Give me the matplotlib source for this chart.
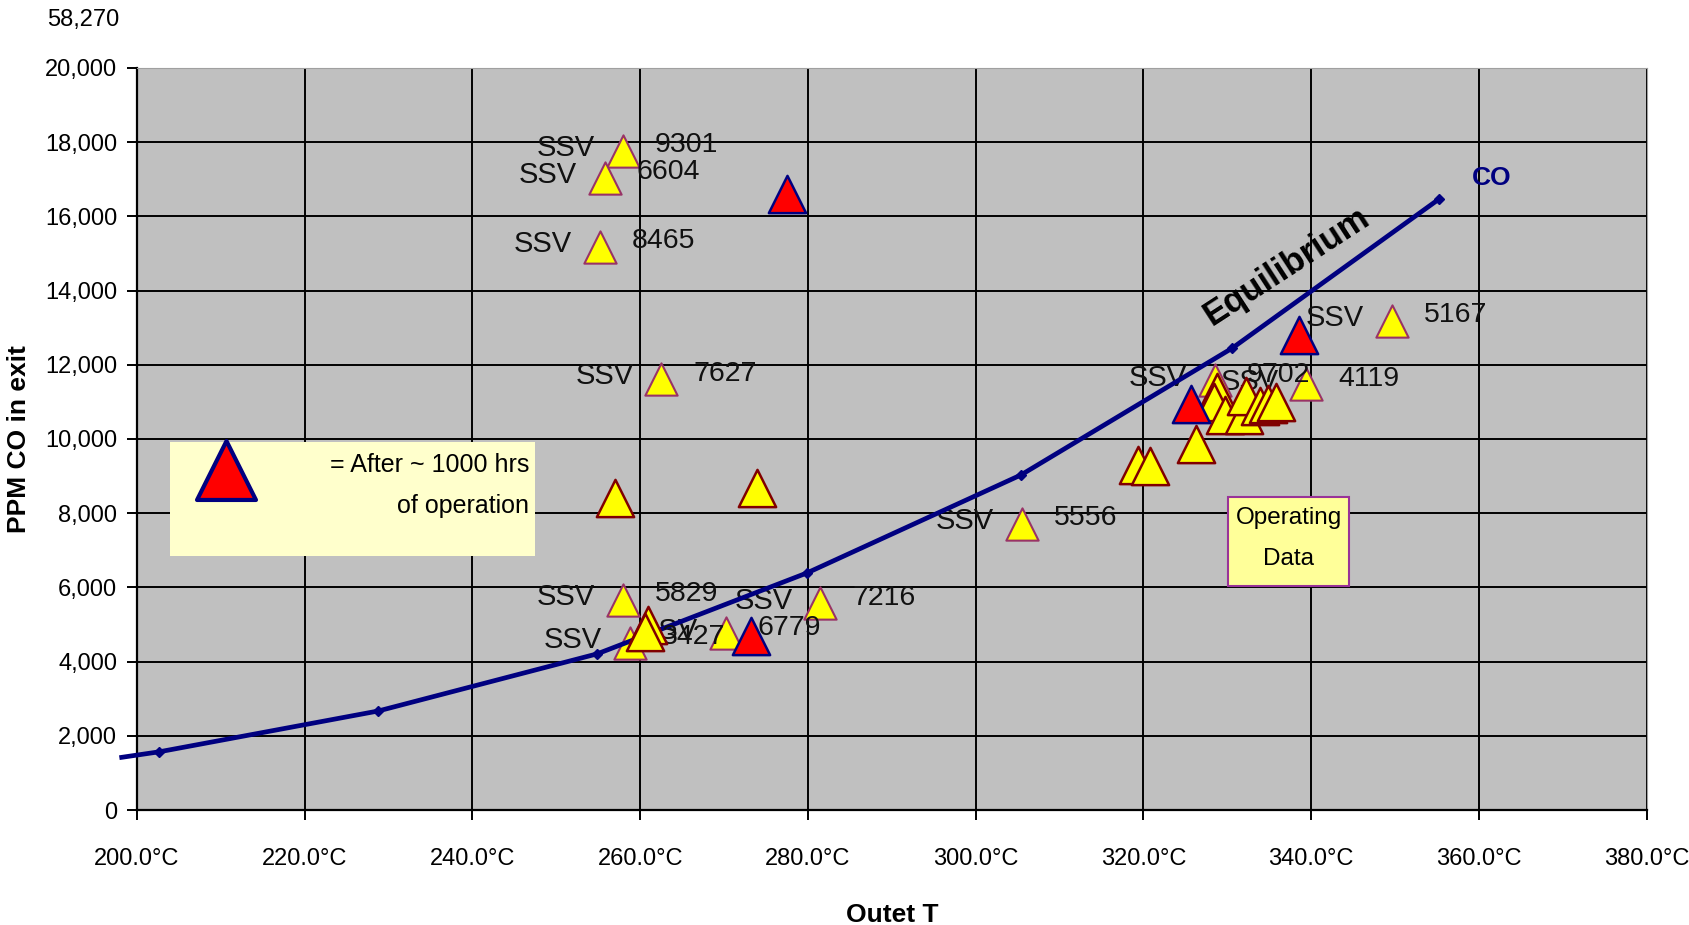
import matplotlib.pyplot as plt
from matplotlib.ticker import FuncFormatter, MultipleLocator

plt.rcParams['font.family'] = ['Liberation Sans', 'DejaVu Sans']

# equilibrium CO curve
eq_T = [198.2, 202.7, 228.8, 254.9, 279.9, 305.4, 330.6, 355.2]
eq_ppm = [1420, 1570, 2670, 4210, 6390, 9030, 12450, 16460]

# labelled SSV operating points
ssv_T = [257.9, 255.8, 255.2, 262.5, 349.6, 305.5, 257.9, 258.8, 270.2, 281.5, 328.5, 339.4]
ssv_ppm = [17765, 17040, 15180, 11610, 13180, 7720, 5660, 4500, 4760, 5570, 11580, 11470]
ssv_ids = ["9301", "6604", "8465", "7627", "5167", "5556", "5829", "3427", "6779", "7216", "9702", "4119"]

# other operating points (no label)
op_T = [257.0, 273.9, 260.9, 260.6, 319.4, 320.8, 326.3, 328.8, 328.4, 329.7, 332.0, 332.2, 333.9, 334.9, 335.8]
op_ppm = [8420, 8680, 4990, 4800, 9290, 9260, 9870, 11260, 11000, 10650, 10650, 11150, 10900, 10940, 11000]

# after ~1000 hrs of operation
aged_T = [277.5, 338.5, 325.7, 273.2]
aged_ppm = [16600, 12800, 10940, 4700]

fig = plt.figure(figsize=(16.89, 9.25), dpi=100)
ax = fig.add_axes([0.081, 0.1243, 0.894, 0.8023])
ax.set_facecolor('#C0C0C0')

ax.set_xlim(200, 380)
ax.set_ylim(0, 20000)
ax.xaxis.set_major_locator(MultipleLocator(20))
ax.yaxis.set_major_locator(MultipleLocator(2000))
ax.xaxis.set_major_formatter(FuncFormatter(lambda v, p: f"{v:.1f}°C"))
ax.yaxis.set_major_formatter(FuncFormatter(lambda v, p: f"{v:,.0f}"))
ax.grid(True, color='black', lw=1.4)
ax.set_axisbelow(True)
ax.tick_params(labelsize=17, length=7, width=1.4, direction='out')
ax.tick_params(axis='x', pad=20)
ax.tick_params(axis='y', pad=7)
for s in ['top', 'right']:
    ax.spines[s].set_color('#A0A0A0')
for s in ['left', 'bottom']:
    ax.spines[s].set_linewidth(1.6)

# odd extra label above the axis
ax.text(-0.0115, 1.064, "58,270", transform=ax.transAxes, ha='right', va='center', fontsize=17)

ax.plot(eq_T, eq_ppm, color='#000080', lw=3.4, marker='D', ms=5, markevery=list(range(1, len(eq_T))),
        zorder=4, clip_on=False)

ax.scatter(ssv_T, ssv_ppm, marker='^', s=540, c='#FFFF00', edgecolors='#993366', linewidths=1.5, zorder=3)
for t, p, lab in zip(ssv_T, ssv_ppm, ssv_ids):
    ax.annotate("SSV", (t, p), xytext=(-20, 2), textcoords='offset points', ha='right', va='center',
                fontsize=21, color='#111111', zorder=2)
    ax.annotate(lab, (t, p), xytext=(23, 4), textcoords='offset points', ha='left', va='center',
                fontsize=20.5, color='#111111', zorder=5)

ax.scatter(op_T, op_ppm, marker='^', s=720, c='#FFFF00', edgecolors='#800000', linewidths=1.8, zorder=5)
ax.scatter(aged_T, aged_ppm, marker='^', s=720, c='#FF0000', edgecolors='#000080', linewidths=1.8, zorder=6)

ax.text(337.1, 14660, "Equilibrium", rotation=33, fontsize=25, fontweight='bold',
        ha='center', va='center', zorder=6)
ax.text(361.5, 17040, "CO", color='#000080', fontsize=19, fontweight='bold', ha='center', va='center', zorder=6)

# legend box
ax.add_patch(plt.Rectangle((204.0, 6850), 43.5, 3077, facecolor='#FFFFCC', edgecolor='none', zorder=6))
ax.scatter([210.6], [9170], marker='^', s=1800, c='#FF0000', edgecolors='#000080', linewidths=3, zorder=7)
ax.text(246.8, 9290, "= After ~ 1000 hrs", ha='right', va='center', fontsize=18, zorder=7)
ax.text(246.8, 8190, "of operation", ha='right', va='center', fontsize=18, zorder=7)

# operating data box
ax.add_patch(plt.Rectangle((330.05, 6040), 14.5, 2407, facecolor='#FFFF99', edgecolor='#993399', lw=1.5, zorder=7))
ax.text(337.3, 7866, "Operating", ha='center', va='center', fontsize=17.5, zorder=8)
ax.text(337.3, 6763, "Data", ha='center', va='center', fontsize=17.5, zorder=8)

ax.set_xlabel("Outet T", fontsize=19, fontweight='bold', labelpad=24)
ax.set_ylabel("PPM CO in exit", fontsize=19, fontweight='bold')
ax.yaxis.set_label_coords(-0.07, 0.5)

fig.savefig("out.png", dpi=100, facecolor='white')
